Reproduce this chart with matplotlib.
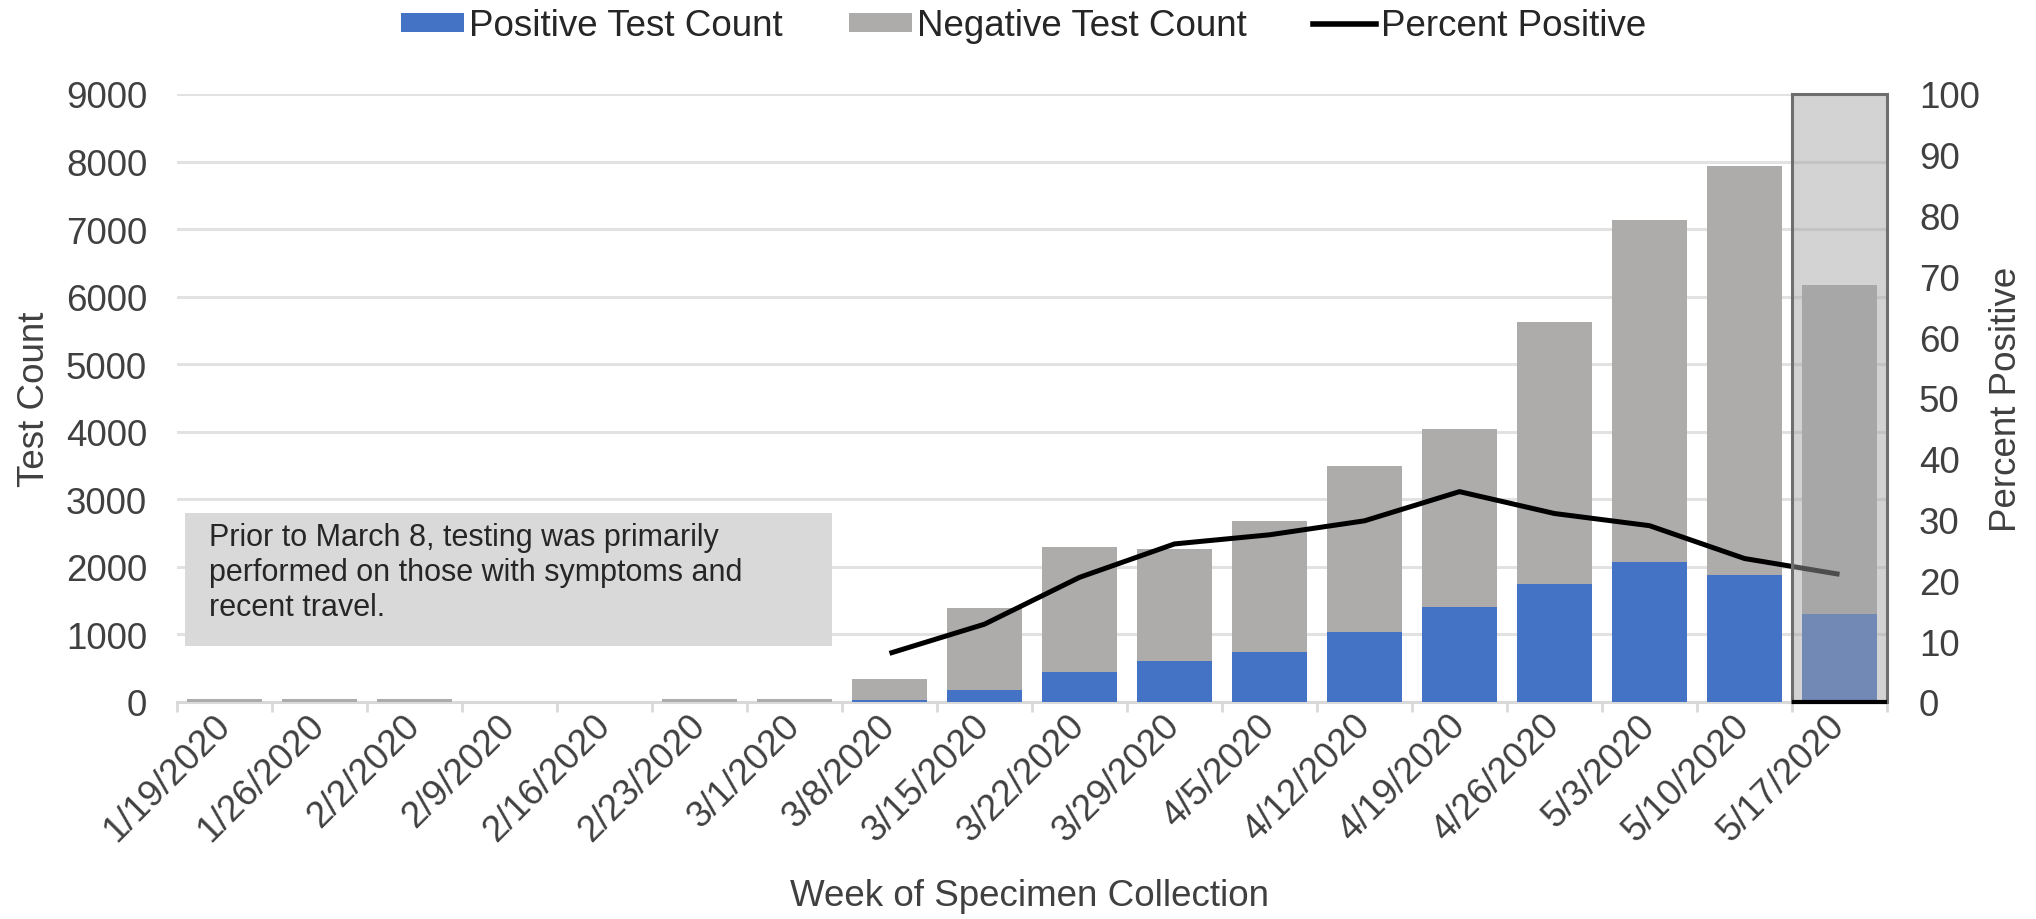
import numpy as np
import matplotlib
matplotlib.use("Agg")
import matplotlib.pyplot as plt
from matplotlib.patches import Rectangle, Patch
from matplotlib.lines import Line2D

plt.rcParams['font.family'] = ['Liberation Sans', 'DejaVu Sans']

# Weekly test counts
weeks = ["1/19/2020", "1/26/2020", "2/2/2020", "2/9/2020", "2/16/2020",
         "2/23/2020", "3/1/2020", "3/8/2020", "3/15/2020", "3/22/2020",
         "3/29/2020", "4/5/2020", "4/12/2020", "4/19/2020", "4/26/2020",
         "5/3/2020", "5/10/2020", "5/17/2020"]
positive = [0, 0, 0, 0, 0, 0, 0, 35, 175, 440, 600, 740, 1030, 1400, 1740, 2070, 1880, 1310]
negative = [40, 40, 40, 0, 0, 40, 40, 300, 1210, 1850, 1660, 1940, 2460, 2640, 3890, 5060, 6060, 4870]
pct_positive = [np.nan] * 7 + [8.0, 12.8, 20.5, 26.0, 27.5, 29.8, 34.6, 31.0, 29.0, 23.6, 21.0]

note = ("Prior to March 8, testing was primarily\n"
        "performed on those with symptoms and\n"
        "recent travel.")

blue = "#4472C4"
gray = "#AEABAB"
grid_c = "#E2E2E2"
txt_c = "#404040"
fs = 26.5

x = np.arange(len(weeks))

fig = plt.figure(figsize=(20.36, 9.2), dpi=100)
ax = fig.add_axes([177 / 2036, 1 - 703 / 920, 1710 / 2036, 608 / 920])
ax2 = ax.twinx()

ax.bar(x, positive, width=0.78, color=blue, zorder=3)
ax.bar(x, negative, width=0.78, bottom=positive, color=gray, zorder=3)

ax.set_xlim(-0.5, len(weeks) - 0.5)
ax.set_ylim(0, 9000)
ax.set_yticks(np.arange(0, 9001, 1000))
ax.yaxis.grid(True, color=grid_c, lw=2.2, zorder=0)
ax.set_axisbelow(True)
for s in ["top", "right", "left"]:
    ax.spines[s].set_visible(False)
ax.spines["bottom"].set_color("#D9D9D9")
ax.spines["bottom"].set_linewidth(2.2)
ax.spines["bottom"].set_zorder(2)

ax.set_xticks(x)
ax.set_xticklabels(weeks, rotation=45, ha="right", va="center", rotation_mode="anchor")
ax.set_xticks(np.arange(-0.5, len(weeks)), minor=True)
ax.tick_params(axis="x", which="major", length=0, pad=13, labelsize=fs, labelcolor=txt_c)
ax.tick_params(axis="x", which="minor", length=7, width=2, color="#D9D9D9")
ax.tick_params(axis="y", length=0, pad=21.5, labelsize=fs, labelcolor=txt_c)

# annotation box
ax.add_patch(Rectangle((-0.416, 826), 6.806, 1968, facecolor="#D9D9D9",
                       edgecolor="none", zorder=4))
ax.text(-0.163, 2660, note, fontsize=22, color="#262626", va="top", ha="left",
        linespacing=1.22, zorder=5)

# percent positive line
ax2.plot(x, pct_positive, color="black", lw=3.6, solid_joinstyle="round",
         solid_capstyle="butt", zorder=3)
ax2.set_ylim(0, 100)
ax2.set_yticks(np.arange(0, 101, 10))
ax2.tick_params(axis="y", length=0, pad=23, labelsize=fs, labelcolor=txt_c)
for s in ["top", "right", "left", "bottom"]:
    ax2.spines[s].set_visible(False)

# highlighted last (incomplete) week
last = len(weeks) - 1
ax2.add_patch(Rectangle((last - 0.5, 0), 1, 100, facecolor=(163 / 255, 163 / 255, 163 / 255, 0.48),
                        edgecolor="#6E6E6E", lw=2.2, zorder=6, clip_on=False))
ax2.plot([last - 0.5, last + 0.5], [0, 0], color="black", lw=3, zorder=7,
         solid_capstyle="butt", clip_on=False)

fig.text(35 / 2036, 0.566, "Test Count", rotation=90, ha="center", va="center",
         fontsize=fs, color=txt_c)
fig.text(2006 / 2036, 0.566, "Percent Positive", rotation=90, ha="center", va="center",
         fontsize=fs, color=txt_c)
fig.text(1030 / 2036, 0.026, "Week of Specimen Collection", ha="center", va="center",
         fontsize=fs, color=txt_c)

handles = [Patch(facecolor=blue, edgecolor="none"),
           Patch(facecolor=gray, edgecolor="none"),
           Line2D([0], [0], color="black", lw=4)]
labels = ["Positive Test Count", "Negative Test Count", "Percent Positive"]
fig.legend(handles, labels, loc="center", bbox_to_anchor=(1024 / 2036, 1 - 27 / 920),
           ncol=3, frameon=False, fontsize=fs, handlelength=1.7, handleheight=0.42,
           handletextpad=0.15, columnspacing=1.8, labelcolor="#262626")

fig.savefig("out.png", dpi=100)
